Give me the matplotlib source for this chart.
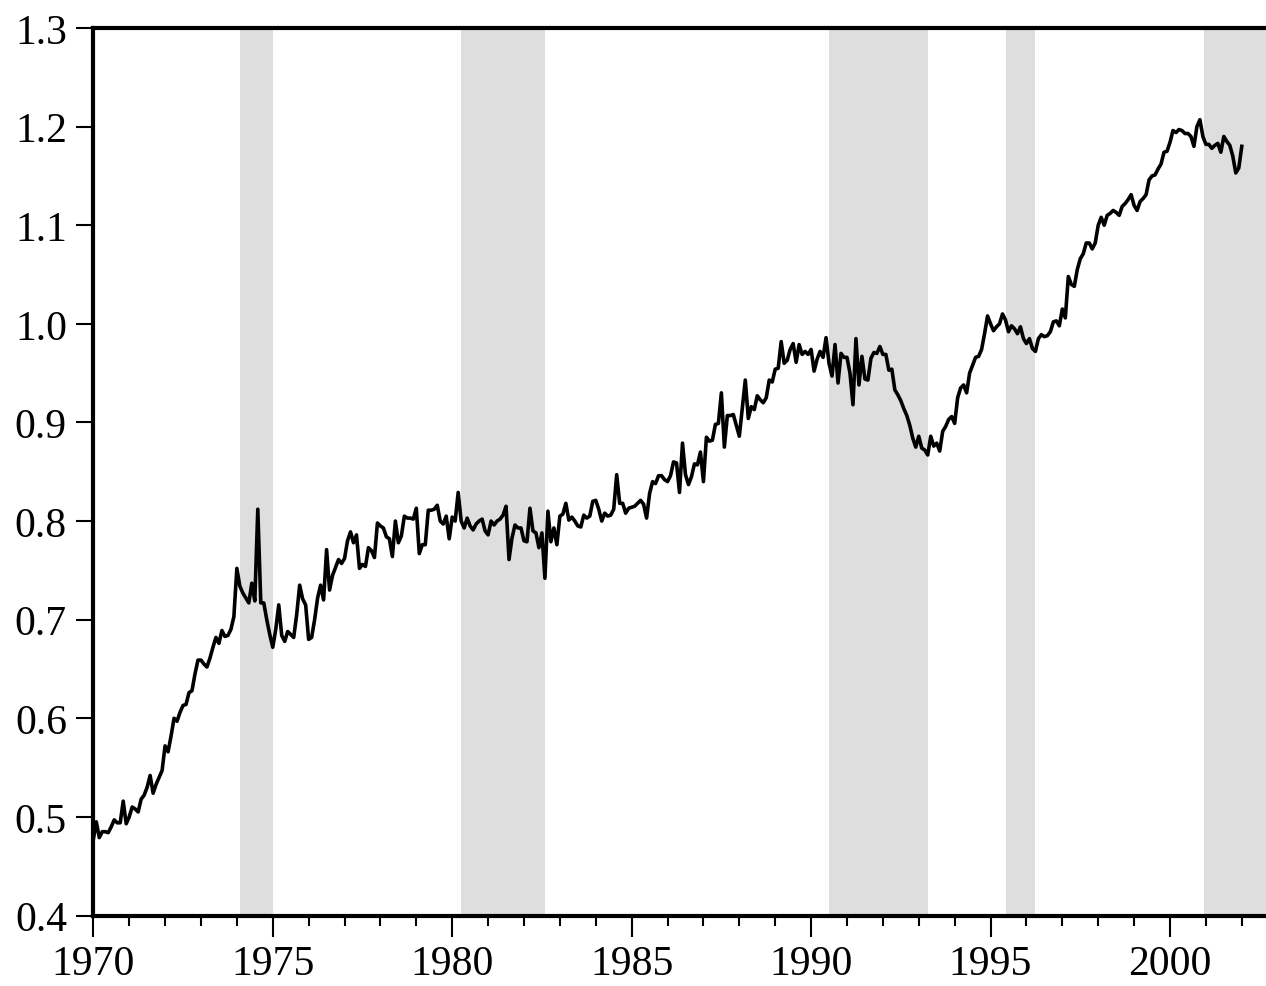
import numpy as np
import matplotlib
matplotlib.use("Agg")
import matplotlib.pyplot as plt
from matplotlib.ticker import FixedLocator, FormatStrFormatter

# monthly series, 1970M01 .. 2002M01
values_1970s = [
    0.477, 0.495, 0.479, 0.485, 0.485, 0.484, 0.490, 0.497, 0.494, 0.494, 0.516, 0.493,  # 1970
    0.500, 0.510, 0.508, 0.505, 0.518, 0.522, 0.530, 0.542, 0.524, 0.533, 0.540, 0.547,  # 1971
    0.572, 0.566, 0.582, 0.600, 0.597, 0.606, 0.613, 0.614, 0.626, 0.628, 0.645, 0.659,  # 1972
    0.659, 0.655, 0.652, 0.661, 0.672, 0.682, 0.676, 0.689, 0.683, 0.684, 0.690, 0.703,  # 1973
    0.752, 0.734, 0.727, 0.722, 0.717, 0.737, 0.719, 0.812, 0.717, 0.717, 0.700, 0.685,  # 1974
    0.672, 0.690, 0.715, 0.684, 0.678, 0.688, 0.685, 0.682, 0.705, 0.735, 0.721, 0.715,  # 1975
    0.680, 0.682, 0.700, 0.722, 0.735, 0.720, 0.771, 0.730, 0.745, 0.753, 0.761, 0.757,  # 1976
    0.762, 0.780, 0.789, 0.778, 0.786, 0.752, 0.756, 0.754, 0.773, 0.770, 0.763, 0.798,  # 1977
    0.795, 0.793, 0.784, 0.782, 0.764, 0.800, 0.778, 0.785, 0.805, 0.803, 0.803, 0.802,  # 1978
    0.813, 0.767, 0.776, 0.776, 0.811, 0.811, 0.812, 0.816, 0.800, 0.797, 0.805, 0.782,  # 1979
]
values_1980s = [
    0.804, 0.800, 0.829, 0.800, 0.793, 0.803, 0.795, 0.791, 0.797, 0.800, 0.802, 0.790,  # 1980
    0.786, 0.800, 0.796, 0.800, 0.802, 0.806, 0.815, 0.761, 0.783, 0.796, 0.793, 0.793,  # 1981
    0.780, 0.779, 0.813, 0.790, 0.788, 0.773, 0.788, 0.742, 0.810, 0.779, 0.793, 0.776,  # 1982
    0.805, 0.807, 0.818, 0.801, 0.804, 0.800, 0.795, 0.794, 0.806, 0.803, 0.805, 0.820,  # 1983
    0.821, 0.812, 0.800, 0.808, 0.805, 0.806, 0.812, 0.847, 0.818, 0.818, 0.808, 0.813,  # 1984
    0.814, 0.815, 0.818, 0.821, 0.817, 0.803, 0.828, 0.840, 0.838, 0.846, 0.846, 0.842,  # 1985
    0.840, 0.846, 0.860, 0.859, 0.829, 0.879, 0.847, 0.837, 0.845, 0.858, 0.857, 0.870,  # 1986
    0.840, 0.885, 0.881, 0.882, 0.898, 0.899, 0.930, 0.875, 0.907, 0.907, 0.908, 0.897,  # 1987
    0.886, 0.915, 0.943, 0.904, 0.916, 0.913, 0.927, 0.923, 0.920, 0.925, 0.943, 0.941,  # 1988
    0.954, 0.955, 0.982, 0.960, 0.963, 0.974, 0.980, 0.961, 0.979, 0.969, 0.972, 0.969,  # 1989
]
values_1990s = [
    0.974, 0.952, 0.964, 0.972, 0.966, 0.986, 0.960, 0.947, 0.979, 0.940, 0.970, 0.966,  # 1990
    0.966, 0.950, 0.918, 0.985, 0.938, 0.967, 0.944, 0.943, 0.965, 0.971, 0.970, 0.977,  # 1991
    0.969, 0.969, 0.953, 0.954, 0.933, 0.928, 0.922, 0.914, 0.907, 0.897, 0.884, 0.875,  # 1992
    0.886, 0.874, 0.872, 0.867, 0.886, 0.876, 0.879, 0.871, 0.891, 0.896, 0.903, 0.906,  # 1993
    0.899, 0.925, 0.935, 0.938, 0.930, 0.950, 0.958, 0.966, 0.967, 0.974, 0.990, 1.008,  # 1994
    1.000, 0.993, 0.997, 1.000, 1.010, 1.004, 0.992, 0.998, 0.995, 0.990, 0.997, 0.985,  # 1995
    0.980, 0.985, 0.975, 0.972, 0.985, 0.989, 0.987, 0.988, 0.992, 1.002, 1.003, 0.998,  # 1996
    1.015, 1.006, 1.048, 1.040, 1.038, 1.055, 1.066, 1.071, 1.082, 1.082, 1.076, 1.082,  # 1997
    1.100, 1.108, 1.100, 1.110, 1.112, 1.115, 1.113, 1.110, 1.119, 1.122, 1.126, 1.131,  # 1998
    1.120, 1.115, 1.124, 1.127, 1.131, 1.146, 1.150, 1.151, 1.157, 1.162, 1.174, 1.175,  # 1999
]
values_2000s = [
    1.184, 1.196, 1.194, 1.197, 1.196, 1.193, 1.193, 1.190, 1.180, 1.200, 1.207, 1.190,  # 2000
    1.182, 1.182, 1.178, 1.181, 1.183, 1.174, 1.190, 1.185, 1.181, 1.170, 1.153, 1.158,  # 2001
    1.180,                                                                              # 2002
]

# shaded periods (start, end) in decimal years
shade_start = [1974.08, 1980.25, 1990.50, 1995.42, 2000.95]
shade_end = [1975.00, 1982.58, 1993.25, 1996.25, 2003.00]

series = values_1970s + values_1980s + values_1990s + values_2000s
dates = 1970 + np.arange(len(series)) / 12.0

plt.rcParams["font.family"] = ["Liberation Serif", "DejaVu Serif"]

fig = plt.figure(figsize=(12.66, 9.87), dpi=100)
ax = fig.add_axes([93.3 / 1266, (987 - 916.5) / 987, 1 - 93.3 / 1266, (916.5 - 29) / 987])

for s, e in zip(shade_start, shade_end):
    ax.axvspan(s, e, color="#dedede", lw=0, zorder=0)

ax.plot(dates, series, color="black", lw=2.6, zorder=3)

ax.set_xlim(1970, 2002.675)
ax.set_ylim(0.4, 1.3)

ax.xaxis.set_major_locator(FixedLocator(np.arange(1970, 2001, 5)))
ax.xaxis.set_minor_locator(FixedLocator(np.arange(1970, 2003, 1)))
ax.yaxis.set_major_locator(FixedLocator(np.arange(0.4, 1.31, 0.1)))
ax.yaxis.set_major_formatter(FormatStrFormatter("%.1f"))
ax.xaxis.set_major_formatter(FormatStrFormatter("%d"))

ax.tick_params(axis="x", which="major", direction="out", length=15, width=1.5,
               labelsize=30, pad=6)
ax.tick_params(axis="x", which="minor", direction="out", length=7.5, width=1.5)
ax.tick_params(axis="y", which="major", direction="out", length=12, width=1.5,
               labelsize=30, pad=7)

for side in ["left", "top", "bottom"]:
    ax.spines[side].set_linewidth(3)
ax.spines["right"].set_visible(False)

fig.savefig("out.png", dpi=100)
